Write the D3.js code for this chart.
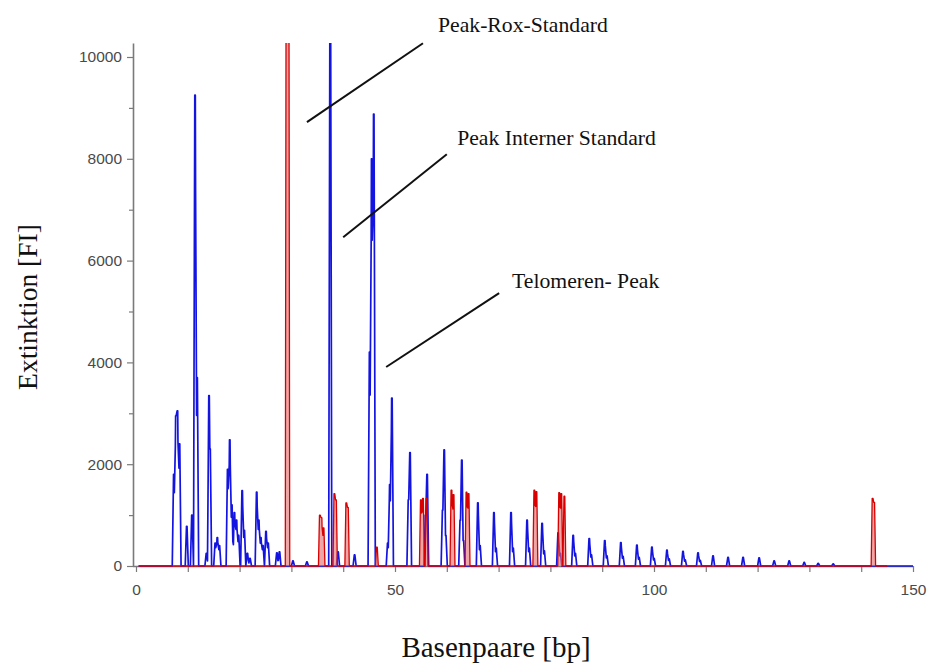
<!DOCTYPE html>
<html>
<head>
<meta charset="utf-8">
<script src="https://cdn.jsdelivr.net/npm/d3@7"></script>
<style>
  html, body { margin: 0; padding: 0; background: #fff; }
  svg { display: block; }
</style>
</head>
<body>
<svg id="chart" width="932" height="664"></svg>
<script>
// Electropherogram: fragment length (bp) vs. fluorescence, two dye channels.

// Blue channel peaks: position in bp and height in FI
const blueBp = [
  7.3, 7.7, 8.0, 8.4, 9.8, 10.8, 11.4, 11.8, 13.6, 14.1, 14.3,
  15.3, 15.7, 16.1, 17.7, 18.1, 18.5, 19.0, 19.4, 19.8, 20.5, 20.9,
  21.5, 22.0, 23.3, 23.7, 24.1, 24.5, 25.1, 25.5, 27.2, 27.7, 30.3, 33.0,
  37.5, 39.0, 42.2, 45.1, 45.5, 45.9, 48.6, 49.0, 49.4,
  52.6, 52.9, 55.9, 56.2, 59.2, 59.5, 59.8, 62.6, 62.9, 63.2,
  66.0, 66.4, 69.1, 69.5, 72.4, 72.8, 75.5, 75.9, 78.4, 78.8,
  81.5, 81.9, 84.4, 84.8, 87.5, 87.9, 90.5, 90.9, 93.6, 94.0,
  96.7, 97.1, 99.6, 100.0, 102.5, 102.9, 105.6, 106.0, 108.5, 108.9,
  111.4, 114.3, 117.2, 120.3, 123.2, 126.1, 129.0, 131.7, 134.6
];
const blueHeight = [
  1800, 2950, 3050, 2400, 780, 1000, 9250, 3700, 250, 3350, 2300,
  450, 560, 400, 1900, 2480, 1200, 1050, 900, 600, 1480, 700,
  250, 150, 1450, 900, 560, 400, 680, 450, 260, 280, 100, 80,
  12000, 280, 220, 4200, 8000, 8880, 450, 1600, 3300,
  1300, 2230, 1000, 1800, 1100, 2280, 600, 900, 2080, 500,
  1240, 400, 1050, 350, 1050, 350, 900, 350, 840, 300,
  650, 250, 600, 250, 540, 220, 500, 200, 460, 190,
  410, 170, 370, 150, 310, 140, 290, 120, 260, 110,
  200, 170, 170, 160, 100, 100, 70, 50, 40
];

// Red channel (ROX size standard) peaks
const redBp = [
  29.1, 29.4, 35.5, 35.8, 36.2, 38.3, 38.6, 40.6, 40.9, 46.5,
  55.0, 55.4, 56.1, 60.9, 61.3, 63.8, 64.2, 76.9, 77.3,
  81.7, 82.1, 82.7, 142.2, 142.5
];
const redHeight = [
  15000, 15000, 1000, 950, 750, 1420, 1300, 1240, 1150, 370,
  1300, 1330, 1330, 1490, 1400, 1450, 1420, 1490, 1460,
  1440, 1420, 1370, 1330, 1250
];

const blueEnd = 150;   // blue trace runs to the end of the scan
const redEnd = 145;

const yMajorTicks = [0, 2000, 4000, 6000, 8000, 10000];
const yMinorTicks = [1000, 3000, 5000, 7000, 9000];
const xMajorTicks = [0, 50, 100, 150];
const xMinorTicks = [10, 20, 30, 40, 60, 70, 80, 90, 110, 120, 130, 140];

// Callouts, in data units
const annotations = [
  { text: "Peak-Rox-Standard",      from: [33.0, 8720], to: [55.4, 10270], at: [58.3, 10490] },
  { text: "Peak Interner Standard", from: [40.0, 6460], to: [60.0, 8090],  at: [62.0, 8270] },
  { text: "Telomeren- Peak",        from: [48.3, 3910], to: [70.1, 5360],  at: [72.6, 5460] }
];

// ---- layout ----
const svg = d3.select("#chart");
const plot = { left: 136, right: 913, top: 43, bottom: 566 };
const axisGap = 3;

const x = d3.scaleLinear().domain([0, 150]).range([plot.left, plot.right]);
const y = d3.scaleLinear().domain([0, 10275]).range([plot.bottom, plot.top]);

const axisColor = "#7a7a7a";
const labelFont = "'Liberation Sans', Arial, sans-serif";
const serif = "'Liberation Serif', 'Times New Roman', serif";

// Build a trace outline from its peaks: each peak is a narrow spike,
// the trace follows the upper envelope of all spikes.
function traceFrom(bps, heights, halfBase, halfTop, start, end) {
  const peaks = bps.map((b, i) => ({ b, h: heights[i] }));
  const shape = (p, t) => {
    const d = Math.abs(t - p.b);
    if (d <= halfTop) return p.h;
    if (d >= halfBase) return 0;
    return p.h * (halfBase - d) / (halfBase - halfTop);
  };
  const xs = new Set([start, end]);
  peaks.forEach(p => {
    [-halfBase, -halfTop, halfTop, halfBase].forEach(o => {
      const v = p.b + o;
      if (v >= start && v <= end) xs.add(+v.toFixed(4));
    });
  });
  return Array.from(xs).sort((a, b) => a - b)
    .map(t => [t, d3.max(peaks, p => shape(p, t))]);
}

svg.append("defs").append("clipPath").attr("id", "plotClip")
  .append("rect")
  .attr("x", plot.left - axisGap).attr("y", plot.top)
  .attr("width", plot.right - plot.left + axisGap + 2)
  .attr("height", plot.bottom - plot.top + 2);

// ---- axes ----
const yAxisX = plot.left - axisGap;

svg.append("g").attr("transform", `translate(${yAxisX},0)`)
  .call(d3.axisLeft(y).tickValues(yMajorTicks).tickSize(6).tickSizeOuter(0).tickPadding(5)
    .tickFormat(d3.format("d")));
svg.append("g").attr("transform", `translate(${yAxisX},0)`)
  .call(d3.axisLeft(y).tickValues(yMinorTicks).tickSize(4).tickSizeOuter(0).tickFormat(""))
  .call(g => g.select(".domain").remove());

const xAxis = svg.append("g").attr("transform", `translate(0,${plot.bottom})`)
  .call(d3.axisBottom(x).tickValues(xMajorTicks).tickSize(6).tickSizeOuter(0).tickPadding(12));
svg.append("g").attr("transform", `translate(0,${plot.bottom})`)
  .call(d3.axisBottom(x).tickValues(xMinorTicks).tickSize(6).tickSizeOuter(0).tickFormat(""))
  .call(g => g.select(".domain").remove());
xAxis.select(".domain").attr("d", `M${yAxisX},0.5H${plot.right}`);

svg.selectAll(".domain").attr("stroke", axisColor).attr("stroke-width", 1.6);
svg.selectAll(".tick line").attr("stroke", axisColor).attr("stroke-width", 1.2);
svg.selectAll(".tick text")
  .attr("fill", "#4a4a4a").style("font-family", labelFont).style("font-size", "15.5px");

// ---- traces ----
const line = d3.line().x(d => x(d[0])).y(d => y(d[1]));
const area = d3.area().x(d => x(d[0])).y0(y(0)).y1(d => y(d[1]));

const traces = svg.append("g").attr("clip-path", "url(#plotClip)");

const blueTrace = traceFrom(blueBp, blueHeight, 0.3, 0.05, 0.5, blueEnd);
const redTrace = traceFrom(redBp, redHeight, 0.28, 0.08, 0.5, redEnd);

traces.append("path").datum(blueTrace)
  .attr("d", line)
  .attr("fill", "none").attr("stroke", "#1414e0").attr("stroke-width", 1.7)
  .attr("stroke-linejoin", "round");

traces.append("path").datum(redTrace)
  .attr("d", area)
  .attr("fill", "#e46a6a").attr("fill-opacity", 0.6).attr("stroke", "none");
traces.append("path").datum(redTrace)
  .attr("d", line)
  .attr("fill", "none").attr("stroke", "#d80000").attr("stroke-width", 1.3)
  .attr("stroke-linejoin", "round");

// ---- titles ----
svg.append("text")
  .attr("x", 496).attr("y", 657)
  .attr("text-anchor", "middle")
  .style("font-family", serif).style("font-size", "29px").attr("fill", "#111")
  .text("Basenpaare [bp]");

svg.append("text")
  .attr("transform", `translate(37,307) rotate(-90)`)
  .attr("text-anchor", "middle")
  .style("font-family", serif).style("font-size", "27.5px").attr("fill", "#111")
  .text("Extinktion [FI]");

// ---- callouts ----
const notes = svg.append("g");
notes.selectAll("line").data(annotations).join("line")
  .attr("x1", d => x(d.from[0])).attr("y1", d => y(d.from[1]))
  .attr("x2", d => x(d.to[0])).attr("y2", d => y(d.to[1]))
  .attr("stroke", "#111").attr("stroke-width", 2);
notes.selectAll("text").data(annotations).join("text")
  .attr("x", d => x(d.at[0])).attr("y", d => y(d.at[1]))
  .style("font-family", serif).style("font-size", "21.7px").attr("fill", "#111")
  .text(d => d.text);
</script>
</body>
</html>
